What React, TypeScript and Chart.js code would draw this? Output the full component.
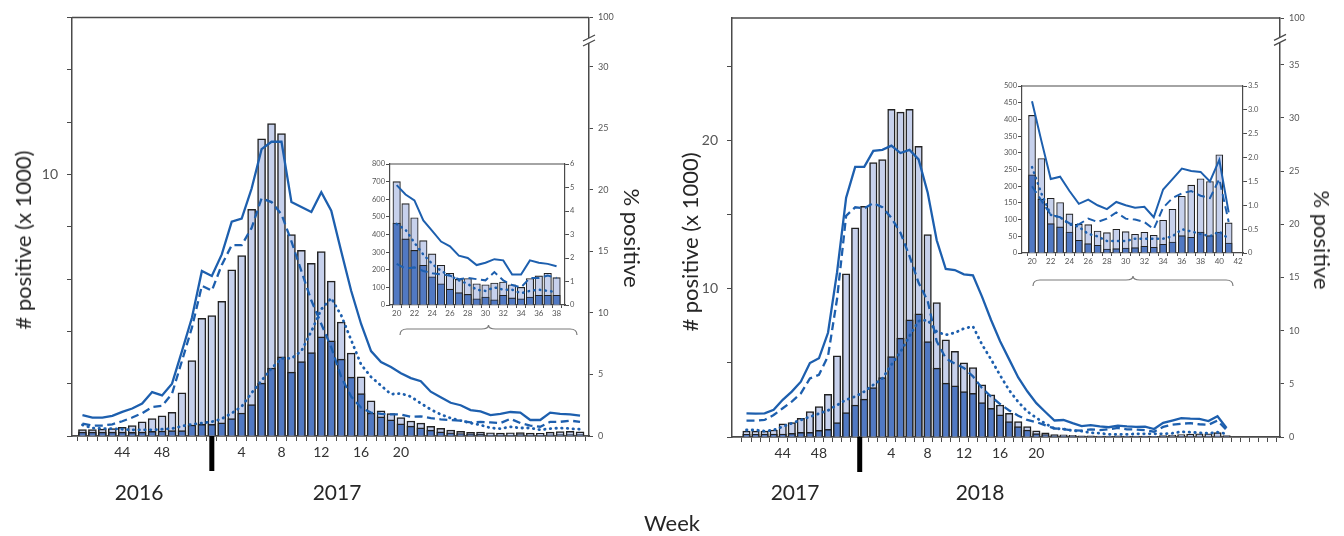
import React, { useEffect, useRef } from 'react';
import { Chart, registerables } from 'chart.js';

Chart.register(...registerables);

const FONT = 'Lato, "Open Sans", sans-serif';
const LINE_BLUE = '#1d5fae';
const LIGHT_FILL = '#c7d1ec';
const DARK_FILL = '#5179c3';
const BAR_EDGE = '#222222';
const AXIS = '#4a4a4a';
const TICK_TXT = '#555';
const TEXT = '#262626';

// ---------- Season 2016/2017 ----------
const weeks1617 = [40, 41, 42, 43, 44, 45, 46, 47, 48, 49, 50, 51, 52, 1, 2, 3, 4, 5, 6, 7, 8, 9, 10, 11, 12, 13, 14, 15, 16, 17, 18, 19, 20, 21, 22, 23, 24, 25, 26, 27, 28, 29, 30, 31, 32, 33, 34, 35, 36, 37, 38];
// # positive (x1000), weeks 40/2016 .. 19/2017
const total1617Head = [0.25, 0.25, 0.26, 0.28, 0.33, 0.40, 0.54, 0.67, 0.77, 0.90, 1.65, 2.88, 4.50, 4.60, 5.15, 6.35, 6.90, 8.66, 11.36, 11.94, 11.56, 7.70, 7.10, 6.60, 7.05, 5.92, 4.35, 3.17, 2.26, 1.34, 0.96, 0.86];
const b1617Head = [0.15, 0.15, 0.15, 0.15, 0.15, 0.14, 0.15, 0.18, 0.19, 0.21, 0.21, 0.42, 0.45, 0.45, 0.50, 0.67, 0.88, 1.20, 2.02, 2.60, 3.03, 2.44, 2.84, 3.19, 3.79, 3.64, 2.94, 2.25, 1.62, 0.88, 0.73, 0.62];
// % positive
const solid1617Head = [1.69, 1.5, 1.5, 1.64, 1.96, 2.23, 2.63, 3.57, 3.3, 4.25, 6.9, 9.6, 13.4, 13.0, 14.75, 17.4, 17.66, 20.1, 23.3, 23.9, 23.9, 19.0, 18.6, 18.2, 19.8, 18.3, 15.0, 11.8, 9.1, 6.9, 6.0, 5.6];
const dashed1617Head = [1.0, 0.85, 0.85, 0.95, 1.2, 1.5, 1.85, 2.35, 2.45, 3.44, 6.1, 8.8, 12.2, 11.8, 13.9, 15.5, 15.5, 16.9, 19.3, 19.0, 18.0, 15.8, 13.4, 11.0, 9.1, 7.2, 4.8, 3.2, 2.3, 1.9, 1.8, 1.75];
const dotted1617Head = [0.9, 0.65, 0.6, 0.6, 0.55, 0.5, 0.5, 0.5, 0.55, 0.6, 0.8, 0.95, 1.05, 1.15, 1.4, 1.85, 2.4, 3.5, 4.5, 5.5, 6.3, 6.3, 6.9, 8.5, 10.3, 11.2, 9.8, 7.8, 5.8, 4.8, 4.1, 3.4];

// inset, weeks 20..38 of 2017
const insetWeeks1617 = [20, 21, 22, 23, 24, 25, 26, 27, 28, 29, 30, 31, 32, 33, 34, 35, 36, 37, 38];
const insetTotal1617 = [700, 575, 495, 365, 290, 225, 180, 145, 150, 120, 115, 125, 130, 115, 100, 150, 165, 180, 155];
const insetB1617 = [465, 375, 310, 225, 160, 120, 90, 70, 60, 35, 45, 30, 55, 40, 35, 45, 55, 55, 55];
const insetSolid1617 = [5.1, 4.7, 4.45, 3.6, 3.15, 2.7, 2.5, 2.1, 2.0, 1.7, 1.8, 1.95, 1.9, 1.3, 1.3, 1.9, 1.8, 1.75, 1.65];
const insetDashed1617 = [1.75, 1.55, 1.6, 1.45, 1.35, 1.3, 1.25, 1.1, 1.15, 1.1, 1.05, 1.4, 1.05, 0.85, 0.75, 1.15, 1.15, 1.25, 1.15];
const insetDotted1617 = [3.45, 3.2, 2.65, 2.15, 1.75, 1.45, 1.25, 1.05, 0.9, 0.65, 0.6, 0.75, 0.65, 0.65, 0.5, 0.6, 0.65, 0.6, 0.55];

// ---------- Season 2017/2018 ----------
const weeks1718 = [40, 41, 42, 43, 44, 45, 46, 47, 48, 49, 50, 51, 52, 1, 2, 3, 4, 5, 6, 7, 8, 9, 10, 11, 12, 13, 14, 15, 16, 17, 18, 19, 20, 21, 22, 23, 24, 25, 26, 27, 28, 29, 30, 31, 32, 33, 34, 35, 36, 37, 38, 39, 40, 41];
const total1718Head = [0.40, 0.40, 0.40, 0.47, 0.88, 0.97, 1.26, 1.71, 2.05, 2.88, 5.47, 11.0, 14.1, 15.56, 18.5, 18.7, 22.1, 21.9, 22.1, 19.6, 13.65, 9.07, 6.55, 5.77, 5.0, 4.68, 3.51, 2.84, 2.16, 1.6, 1.04, 0.7];
const b1718Head = [0.18, 0.18, 0.2, 0.2, 0.2, 0.25, 0.32, 0.32, 0.45, 0.52, 0.97, 1.64, 2.16, 2.55, 3.33, 4.0, 5.43, 6.67, 7.9, 8.3, 6.44, 4.64, 3.63, 3.45, 3.06, 2.95, 2.32, 1.94, 1.49, 1.04, 0.7, 0.47];
const solid1718Head = [2.23, 2.2, 2.23, 2.55, 3.5, 4.27, 5.2, 6.95, 7.4, 9.8, 15.5, 22.5, 25.4, 25.4, 26.9, 27.0, 27.4, 26.7, 27.0, 26.1, 23.0, 18.5, 15.8, 15.7, 15.3, 15.2, 13.2, 11.0, 9.0, 7.3, 5.6, 4.3];
const dashed1718Head = [1.54, 1.54, 1.6, 2.07, 2.7, 3.33, 4.1, 5.5, 5.85, 7.6, 13.0, 20.8, 21.6, 21.5, 22.0, 21.6, 20.6, 19.2, 17.0, 14.5, 12.8, 9.0, 7.4, 6.9, 6.5, 5.7, 4.6, 3.8, 3.1, 2.5, 2.0, 1.6];
const dotted1718Head = [0.66, 0.66, 0.55, 0.66, 0.97, 1.29, 1.6, 1.9, 2.2, 2.5, 3.0, 3.5, 3.8, 4.27, 4.9, 5.5, 6.8, 8.0, 9.5, 10.9, 11.0, 9.9, 9.6, 9.8, 10.2, 10.4, 8.7, 7.3, 5.8, 4.4, 3.3, 2.4];

const insetWeeks1718 = [20, 21, 22, 23, 24, 25, 26, 27, 28, 29, 30, 31, 32, 33, 34, 35, 36, 37, 38, 39, 40, 41];
const insetTotal1718 = [412, 283, 164, 151, 117, 86, 85, 66, 61, 71, 64, 56, 62, 53, 98, 131, 170, 203, 222, 214, 294, 90];
const insetB1718 = [234, 161, 88, 78, 63, 38, 28, 23, 12, 13, 15, 16, 20, 17, 26, 33, 52, 47, 63, 52, 63, 30];
const insetSolid1718 = [3.18, 2.35, 1.55, 1.6, 1.3, 1.03, 1.12, 1.0, 0.92, 1.07, 1.0, 0.95, 0.97, 0.75, 1.33, 1.55, 1.77, 1.72, 1.7, 1.5, 1.95, 0.85];
const insetDashed1718 = [1.4, 1.1, 0.8, 0.75, 0.62, 0.6, 0.72, 0.65, 0.72, 0.85, 0.72, 0.7, 0.65, 0.5, 0.95, 1.15, 1.25, 1.3, 1.2, 1.15, 1.55, 0.65];
const insetDotted1718 = [1.8, 1.25, 0.8, 0.75, 0.6, 0.55, 0.4, 0.35, 0.25, 0.25, 0.25, 0.3, 0.3, 0.3, 0.3, 0.35, 0.5, 0.45, 0.4, 0.35, 0.45, 0.3];

// axis tick labels
const weekTickLabels = [44, 48, 4, 8, 12, 16, 20];
const pctTicks1617 = [0, 5, 10, 15, 20, 25, 30];
const pctTicks1718 = [0, 5, 10, 15, 20, 25, 30, 35];

const perThousand = (arr: number[]) => arr.map((v) => v / 1000);

function lineSets(solid: number[], dashed: number[], dotted: number[], xs: number[], w: number) {
  const pts = (arr: number[]) => arr.map((v, i) => ({ x: xs[i], y: v }));
  const base = { type: 'line', borderColor: LINE_BLUE, borderWidth: w, pointRadius: 0, yAxisID: 'y2', xAxisID: 'x', fill: false, tension: 0, order: 0 };
  return [
    { ...base, data: pts(solid) },
    { ...base, data: pts(dashed), borderDash: [8, 4.5] },
    { ...base, data: pts(dotted), borderDash: [0.5, 5.2], borderCapStyle: 'round', borderWidth: w + 0.5 },
  ];
}

function barSets(total: number[], b: number[], xs: number[], thick: number, bw: number) {
  const pts = (arr: number[]) => arr.map((v, i) => ({ x: xs[i], y: v }));
  const base = { type: 'bar', borderColor: BAR_EDGE, borderWidth: bw, barThickness: thick, grouped: false, yAxisID: 'y', xAxisID: 'x' };
  return [
    { ...base, data: pts(b), backgroundColor: DARK_FILL, order: 1 },
    { ...base, data: pts(total), backgroundColor: LIGHT_FILL, order: 2 },
  ];
}

function mainConfig(o: any) {
  const xs = o.weeks.map((_: number, i: number) => i);
  return {
    type: 'bar',
    data: {
      datasets: [
        ...lineSets(o.solid, o.dashed, o.dotted, xs, 2.3),
        ...barSets(o.total, o.b, xs, o.barW, 1.5),
      ],
    },
    options: {
      responsive: false,
      animation: false,
      events: [],
      layout: { padding: { top: o.padTop, left: 0, right: 0, bottom: 0 } },
      plugins: { legend: { display: false }, tooltip: { enabled: false } },
      scales: {
        x: {
          type: 'linear', min: o.xMin, max: o.xMax, offset: false,
          afterBuildTicks: (s: any) => {
            const t = [];
            for (let i = 0; i <= Math.floor(o.xMax); i++) t.push({ value: i });
            s.ticks = t;
          },
          ticks: {
            autoSkip: false, maxRotation: 0, padding: 3, color: '#333',
            font: { family: FONT, size: 14 },
            callback: (v: number) => {
              const w = o.weeks[v];
              return w !== undefined && weekTickLabels.includes(w) ? String(w) : '';
            },
          },
          grid: { drawOnChartArea: false, drawTicks: true, tickLength: 5, color: AXIS, lineWidth: 1 },
          border: { display: true, color: AXIS, width: 1.8 },
          afterFit: (s: any) => { s.height = o.xH; },
        },
        y: {
          type: 'linear', position: 'left', min: 0, max: o.yMax,
          ticks: {
            stepSize: o.yStep, includeBounds: false, padding: 9, color: TICK_TXT,
            font: { family: FONT, size: 14 },
            callback: (v: number) => (o.yLabels.includes(v) ? String(v) : ''),
          },
          grid: { drawOnChartArea: false, drawTicks: true, tickLength: 5, color: AXIS },
          border: { display: true, color: AXIS, width: 1.5 },
          afterFit: (s: any) => { s.width = o.yW; },
        },
        y2: {
          type: 'linear', position: 'right', min: 0, max: o.pMax,
          afterBuildTicks: (s: any) => {
            s.ticks = [...o.pTicks, o.pMax].map((v: number) => ({ value: v }));
          },
          ticks: {
            padding: 5, color: TICK_TXT, font: { family: FONT, size: 9 },
            callback: (v: number) => (v === o.pMax ? '100' : String(v)),
          },
          grid: { drawOnChartArea: false, drawTicks: true, tickLength: 4, color: AXIS },
          border: { display: true, color: AXIS, width: 1.5 },
          afterFit: (s: any) => { s.width = o.y2W; },
        },
      },
    },
    plugins: [
      {
        id: 'decor',
        afterDraw(chart: any) {
          const { ctx, chartArea: a, scales } = chart;
          ctx.save();
          ctx.strokeStyle = AXIS;
          ctx.lineWidth = 1.5;
          ctx.beginPath();
          ctx.moveTo(a.left, a.top);
          ctx.lineTo(a.right, a.top);
          ctx.stroke();
          // axis break between last numeric tick and "100"
          const y2 = scales.y2;
          const lastNum = o.pTicks[o.pTicks.length - 1];
          const yb = (y2.getPixelForValue(lastNum) + y2.getPixelForValue(o.pMax)) / 2;
          const ax = a.right;
          ctx.fillStyle = '#fff';
          ctx.fillRect(ax - 3, yb - 4, 6, 5);
          ctx.lineWidth = 1.3;
          ctx.beginPath();
          ctx.moveTo(ax - 6, yb + 4);
          ctx.lineTo(ax + 6, yb - 2);
          ctx.moveTo(ax - 6, yb - 1);
          ctx.lineTo(ax + 6, yb - 7);
          ctx.stroke();
          // year boundary marker
          const mx = scales.x.getPixelForValue(o.mark);
          ctx.fillStyle = '#000';
          ctx.fillRect(mx - 2.5, a.bottom, 5, 35);
          ctx.restore();
        },
      },
    ],
  };
}

function insetConfig(o: any) {
  return {
    type: 'bar',
    data: {
      datasets: [
        ...lineSets(o.solid, o.dashed, o.dotted, o.weeks, 2),
        ...barSets(o.total, o.b, o.weeks, o.barW, 1.1),
      ],
    },
    options: {
      responsive: false,
      animation: false,
      events: [],
      layout: { padding: { top: o.padTop, left: 0, right: 0, bottom: 0 } },
      plugins: { legend: { display: false }, tooltip: { enabled: false } },
      scales: {
        x: {
          type: 'linear', min: o.xMin, max: o.xMax, offset: false,
          afterBuildTicks: (s: any) => {
            const t = [];
            for (let w = o.weeks[0]; w <= Math.floor(o.xMax); w++) t.push({ value: w });
            s.ticks = t;
          },
          ticks: {
            autoSkip: false, maxRotation: 0, padding: 1, color: TICK_TXT,
            font: { family: FONT, size: 8 },
            callback: (v: number) => (v % 2 === 0 ? String(v) : ''),
          },
          grid: { drawOnChartArea: false, drawTicks: true, tickLength: 3, color: AXIS },
          border: { display: true, color: AXIS, width: 1.2 },
          afterFit: (s: any) => { s.height = o.xH; },
        },
        y: {
          type: 'linear', position: 'left', min: 0, max: o.yMax,
          ticks: { stepSize: o.yStep, padding: 1, color: TICK_TXT, font: { family: FONT, size: 7.5 } },
          grid: { drawOnChartArea: false, drawTicks: true, tickLength: 4, color: AXIS },
          border: { display: true, color: AXIS, width: 1.2 },
          afterFit: (s: any) => { s.width = o.yW; },
        },
        y2: {
          type: 'linear', position: 'right', min: 0, max: o.pMax,
          ticks: { stepSize: o.pStep, padding: 1, color: TICK_TXT, font: { family: FONT, size: 7.5 } },
          grid: { drawOnChartArea: false, drawTicks: true, tickLength: 4, color: AXIS },
          border: { display: true, color: AXIS, width: 1.2 },
          afterFit: (s: any) => { s.width = o.y2W; },
        },
      },
    },
    plugins: [
      {
        id: 'insetDecor',
        afterDraw(chart: any) {
          const { ctx, chartArea: a } = chart;
          ctx.save();
          ctx.strokeStyle = AXIS;
          ctx.lineWidth = 1.2;
          ctx.beginPath();
          ctx.moveTo(a.left, a.top);
          ctx.lineTo(a.right, a.top);
          ctx.stroke();
          // curly brace under the inset
          const x0 = a.left + o.brace[0];
          const x1 = a.right + o.brace[1];
          const yl = a.bottom + o.brace[2];
          const yb = yl + 6;
          const yt = yl - 4;
          const xm = (x0 + x1) / 2;
          const r = 7;
          ctx.strokeStyle = '#7a7a7a';
          ctx.lineWidth = 1.2;
          ctx.beginPath();
          ctx.moveTo(x0, yb);
          ctx.quadraticCurveTo(x0, yl, x0 + r, yl);
          ctx.lineTo(xm - r, yl);
          ctx.quadraticCurveTo(xm, yl, xm, yt);
          ctx.quadraticCurveTo(xm, yl, xm + r, yl);
          ctx.lineTo(x1 - r, yl);
          ctx.quadraticCurveTo(x1, yl, x1, yb);
          ctx.stroke();
          ctx.restore();
        },
      },
    ],
  };
}

function ChartBox({ left, top, width, height, make }: any) {
  const ref = useRef<HTMLCanvasElement>(null);
  useEffect(() => {
    const chart = new Chart(ref.current as HTMLCanvasElement, make());
    return () => chart.destroy();
  }, []);
  return (
    <canvas
      ref={ref}
      width={width}
      height={height}
      style={{ position: 'absolute', left, top, width, height }}
    />
  );
}

function Label({ x, y, size, rotate, children }: any) {
  return (
    <div
      style={{
        position: 'absolute', left: x, top: y, whiteSpace: 'nowrap',
        transform: `translate(-50%, -50%) rotate(${rotate || 0}deg)`,
        fontFamily: FONT, fontSize: size, color: TEXT, lineHeight: 1,
      }}
    >
      {children}
    </div>
  );
}

export default function App() {
  const left = () => mainConfig({
    weeks: weeks1617,
    total: [...total1617Head, ...perThousand(insetTotal1617)],
    b: [...b1617Head, ...perThousand(insetB1617)],
    solid: [...solid1617Head, ...insetSolid1617],
    dashed: [...dashed1617Head, ...insetDashed1617],
    dotted: [...dotted1617Head, ...insetDotted1617],
    xMin: -1.05, xMax: 50.9, yMax: 16, yStep: 2, yLabels: [10],
    pMax: 34, pTicks: pctTicks1617, mark: 13,
    padTop: 14, yW: 72, y2W: 91, xH: 100, barW: 8,
  });
  const right = () => mainConfig({
    weeks: weeks1718,
    total: [...total1718Head, ...perThousand(insetTotal1718)],
    b: [...b1718Head, ...perThousand(insetB1718)],
    solid: [...solid1718Head, ...insetSolid1718],
    dashed: [...dashed1718Head, ...insetDashed1718],
    dotted: [...dotted1718Head, ...insetDotted1718],
    xMin: -1.6, xMax: 58.9, yMax: 28.25, yStep: 5, yLabels: [10, 20],
    pMax: 39.4, pTicks: pctTicks1718, mark: 12.5,
    padTop: 18, yW: 52, y2W: 64, xH: 99, barW: 7.5,
  });
  const insetL = () => insetConfig({
    weeks: insetWeeks1617, total: insetTotal1617, b: insetB1617,
    solid: insetSolid1617, dashed: insetDashed1617, dotted: insetDotted1617,
    xMin: 19.25, xMax: 38.95, yMax: 800, yStep: 100, pMax: 6, pStep: 1,
    padTop: 10, yW: 35, y2W: 20, xH: 39, barW: 7.5, brace: [10, 12, 24],
  });
  const insetR = () => insetConfig({
    weeks: insetWeeks1718, total: insetTotal1718, b: insetB1718,
    solid: insetSolid1718, dashed: insetDashed1718, dotted: insetDotted1718,
    xMin: 18.93, xMax: 42.53, yMax: 500, yStep: 50, pMax: 3.5, pStep: 0.5,
    padTop: 10, yW: 37, y2W: 27, xH: 43, barW: 7, brace: [11, -10, 27],
  });

  return (
    <div style={{ position: 'absolute', left: 0, top: 0, width: 1344, height: 536, background: '#fff', overflow: 'hidden' }}>
      <ChartBox left={0} top={0} width={680} height={536} make={left} />
      <ChartBox left={680} top={0} width={664} height={536} make={right} />
      <ChartBox left={355} top={154} width={230} height={190} make={insetL} />
      <ChartBox left={985} top={76} width={285} height={220} make={insetR} />

      <Label x={23} y={240} size={22} rotate={-90}># positive (x 1000)</Label>
      <Label x={632} y={238} size={22} rotate={90}>% positive</Label>
      <Label x={690} y={242} size={22} rotate={-90}># positive (x 1000)</Label>
      <Label x={1322} y={240} size={22} rotate={90}>% positive</Label>

      <Label x={139} y={491} size={21}>2016</Label>
      <Label x={337} y={491} size={21}>2017</Label>
      <Label x={795} y={491} size={21}>2017</Label>
      <Label x={980} y={491} size={21}>2018</Label>

      <Label x={672} y={523} size={22}>Week</Label>
    </div>
  );
}
